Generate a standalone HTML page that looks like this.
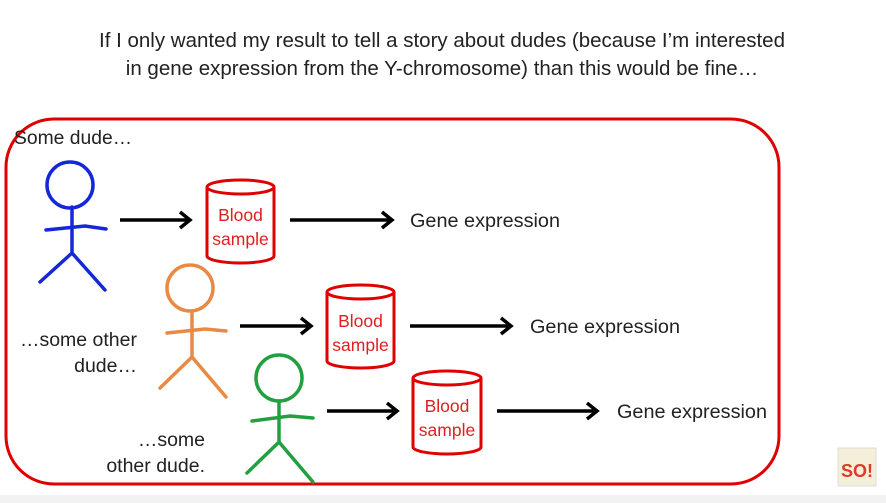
<!DOCTYPE html>
<html><head><style>
html,body{margin:0;padding:0;background:#fff;}
body{width:886px;height:503px;overflow:hidden;position:relative;font-family:"Liberation Sans",sans-serif;}
</style></head><body>
<svg width="886" height="503" viewBox="0 0 886 503" xmlns="http://www.w3.org/2000/svg" style="position:absolute;left:0;top:0">
<rect x="0" y="495" width="886" height="8" fill="#f2f2f2"/>
<g font-family="Liberation Sans, sans-serif" font-size="20.5" fill="#222" text-anchor="middle">
<text x="442" y="47">If I only wanted my result to tell a story about dudes (because I’m interested</text>
<text x="442" y="75">in gene expression from the Y-chromosome) than this would be fine…</text>
</g>
<rect x="6" y="119" width="773" height="365" rx="48" fill="none" stroke="#e00000" stroke-width="3"/>
<g font-family="Liberation Sans, sans-serif" font-size="19.5" fill="#222">
<text x="14" y="144" textLength="118" lengthAdjust="spacingAndGlyphs">Some dude…</text>
<text x="137" y="346" text-anchor="end">…some other</text>
<text x="137" y="372" text-anchor="end">dude…</text>
<text x="205" y="446" text-anchor="end">…some</text>
<text x="205" y="472" text-anchor="end">other dude.</text>
<text x="410" y="227" textLength="150" lengthAdjust="spacingAndGlyphs">Gene expression</text>
<text x="530" y="333" textLength="150" lengthAdjust="spacingAndGlyphs">Gene expression</text>
<text x="617" y="418" textLength="150" lengthAdjust="spacingAndGlyphs">Gene expression</text>
</g>
<g fill="none" stroke-linecap="round" stroke-width="3.5">
<g stroke="#1428d8">
<circle cx="70" cy="185" r="23"/>
<path d="M72 207 L72 253 M46 230 L85 226 L106 229 M72 253 L40 282 M72 253 L105 290"/>
</g>
<g stroke="#e88a44">
<circle cx="190" cy="288" r="23"/>
<path d="M192 311 L192 357 M167 333 L205 329 L226 331 M192 357 L160 388 M192 357 L226 397"/>
</g>
<g stroke="#22a040">
<circle cx="279" cy="378" r="23"/>
<path d="M279 401 L279 442 M252 421 L290 416 L313 418 M279 442 L247 473 M279 442 L313 482"/>
</g>
</g>
<g stroke="#000" stroke-width="3.5" fill="none">
<path d="M120 220 L190 220 M180 212 L190 220 L180 228"/>
<path d="M290 220 L392 220 M382 212 L392 220 L382 228"/>
<path d="M240 326 L311 326 M301 318 L311 326 L301 334"/>
<path d="M410 326 L511 326 M501 318 L511 326 L501 334"/>
<path d="M327 411 L397 411 M387 403 L397 411 L387 419"/>
<path d="M497 411 L597 411 M587 403 L597 411 L587 419"/>
</g>
<g stroke="#e00000" stroke-width="3" fill="#fff">
<path d="M207 187 L207 256 A33.5 7 0 0 0 274 256 L274 187"/><ellipse cx="240.5" cy="187" rx="33.5" ry="7"/>
<path d="M327 292 L327 361 A33.5 7 0 0 0 394 361 L394 292"/><ellipse cx="360.5" cy="292" rx="33.5" ry="7"/>
<path d="M413 378 L413 447 A34 7 0 0 0 481 447 L481 378"/><ellipse cx="447" cy="378" rx="34" ry="7"/>
</g>
<g font-family="Liberation Sans, sans-serif" font-size="17.5" fill="#e02020" text-anchor="middle">
<text x="240.5" y="221">Blood</text><text x="240.5" y="245">sample</text>
<text x="360.5" y="327">Blood</text><text x="360.5" y="351">sample</text>
<text x="447" y="412">Blood</text><text x="447" y="436">sample</text>
</g>
<rect x="838" y="448" width="38" height="38" fill="#f4efd8" stroke="#ddd"/>
<text x="857" y="477" font-family="Liberation Sans, sans-serif" font-size="18" font-weight="bold" fill="#e03a2a" text-anchor="middle">SO!</text>
</svg>
</body></html>
